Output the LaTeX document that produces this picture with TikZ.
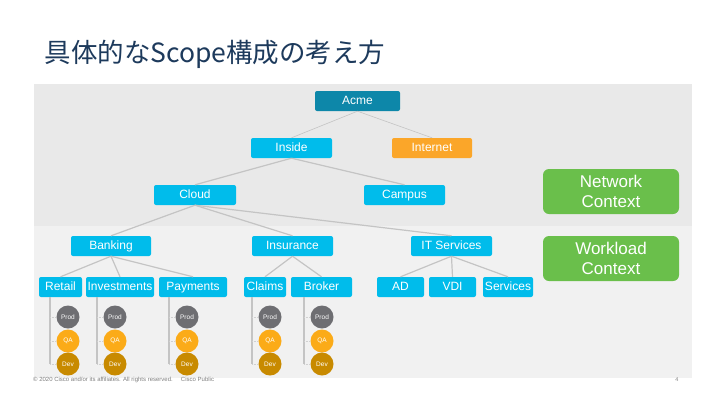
\documentclass[tikz,border=0pt]{standalone}
\usepackage{fontspec}
\setmainfont{Liberation Sans}
\newfontfamily\jpfont{Noto Sans CJK JP}
\definecolor{titleblue}{HTML}{1D3A5C}
\definecolor{bandtop}{HTML}{E9E9E9}
\definecolor{bandlow}{HTML}{F1F1F1}
\definecolor{acmeteal}{HTML}{0D87A9}
\definecolor{scopecyan}{HTML}{00BCEB}
\definecolor{inetorange}{HTML}{FBA629}
\definecolor{ctxgreen}{HTML}{6ABF4B}
\definecolor{prodgray}{HTML}{6E6E72}
\definecolor{qaorange}{HTML}{FBAB18}
\definecolor{devgold}{HTML}{C88A00}
\definecolor{linkgray}{HTML}{C4C4C4}
\tikzset{
  scopebox/.style={fill=scopecyan, text=white, rounded corners=2pt, minimum height=20pt,
    inner sep=0pt, text height=8.6pt, text depth=2.4pt, font=\fontsize{12}{12}\selectfont},
  ctxbox/.style={fill=ctxgreen, text=white, rounded corners=6pt, minimum width=136pt,
    minimum height=45pt, inner sep=0pt, align=center, font=\fontsize{17}{20}\selectfont},
  env/.style={circle, minimum size=23pt, inner sep=0pt, text=white, font=\fontsize{6.5}{6.5}\selectfont},
  link/.style={draw=linkgray, line width=1.2pt},
  thinlink/.style={draw=linkgray, line width=0.6pt},
  tick/.style={draw=linkgray!80, line width=0.7pt, densely dotted}
}
\begin{document}
\begin{tikzpicture}[x=1pt, y=-1pt]
  \useasboundingbox[fill=white] (0,0) rectangle (720,405);
  \fill[bandtop] (34,84) rectangle (692,226);
  \fill[bandlow] (34,226) rectangle (692,378);
  \node[anchor=west, text=titleblue, font=\jpfont\fontsize{26.5}{27}\selectfont] (title) at (41,54) {具体的なScope構成の考え方};

  % network scopes
  \node[scopebox, fill=acmeteal, minimum width=85pt] (acme) at (357.5,101) {Acme};
  \node[scopebox, minimum width=81pt] (inside) at (291.5,148) {Inside};
  \node[scopebox, fill=inetorange, minimum width=80pt] (internet) at (432,148) {Internet};
  \node[scopebox, minimum width=82pt] (cloud) at (195,195) {Cloud};
  \node[scopebox, minimum width=81pt] (campus) at (404.5,195) {Campus};
  \node[ctxbox] (netctx) at (611,191.5) {Network\\Context};

  % workload scopes
  \node[scopebox, minimum width=80pt] (banking) at (111,246) {Banking};
  \node[scopebox, minimum width=81pt] (insurance) at (292.5,246) {Insurance};
  \node[scopebox, minimum width=81pt] (itsvc) at (451.5,246) {IT Services};
  \node[ctxbox] (wlctx) at (611,258.5) {Workload\\Context};
  \node[scopebox, minimum width=43pt] (retail) at (60.5,287) {Retail};
  \node[scopebox, minimum width=68pt] (invest) at (120,287) {Investments};
  \node[scopebox, minimum width=68pt] (pay) at (193,287) {Payments};
  \node[scopebox, minimum width=42pt] (claims) at (265,287) {Claims};
  \node[scopebox, minimum width=61pt] (broker) at (321.5,287) {Broker};
  \node[scopebox, minimum width=47pt] (ad) at (400.5,287) {AD};
  \node[scopebox, minimum width=47pt] (vdi) at (452.5,287) {VDI};
  \node[scopebox, minimum width=50pt] (svc) at (508,287) {Services};

  % tree links
  \draw[thinlink] (acme.south) -- (inside.north);
  \draw[thinlink] (acme.south) -- (internet.north);
  \foreach \kid in {cloud, campus} \draw[link] (inside.south) -- (\kid.north);
  \foreach \kid in {banking, insurance, itsvc} \draw[link] (cloud.south) -- (\kid.north);
  \foreach \kid in {retail, invest, pay} \draw[link] (banking.south) -- (\kid.north);
  \foreach \kid in {claims, broker} \draw[link] (insurance.south) -- (\kid.north);
  \foreach \kid in {ad, vdi, svc} \draw[link] (itsvc.south) -- (\kid.north);

  % environments
  \foreach \leaf/\cx [count=\i] in {retail/68, invest/115, pay/187, claims/270, broker/322} {
    \node[env, fill=prodgray] (prod\i) at (\cx,317) {Prod};
    \node[env, fill=qaorange] (qa\i) at (\cx,341) {QA};
    \node[env, fill=devgold] (dev\i) at (\cx,364) {Dev};
    \path (prod\i.center |- \leaf.south) ++(-18,0) coordinate (rail\i);
    \draw[link] (rail\i) -- (rail\i |- dev\i.center);
    \foreach \e in {prod, qa, dev} \draw[tick] (rail\i |- \e\i.center) -- (\e\i.west);
  }

  \node[anchor=west, text=gray, inner sep=0pt, font=\fontsize{6}{6}\selectfont] (footer) at (33,380)
    {© 2020 Cisco and/or its affiliates. All rights reserved. \quad Cisco Public};
  \node[text=gray, inner sep=0pt, font=\fontsize{5.5}{6}\selectfont] (page) at (677,380) {4};
\end{tikzpicture}
\end{document}
